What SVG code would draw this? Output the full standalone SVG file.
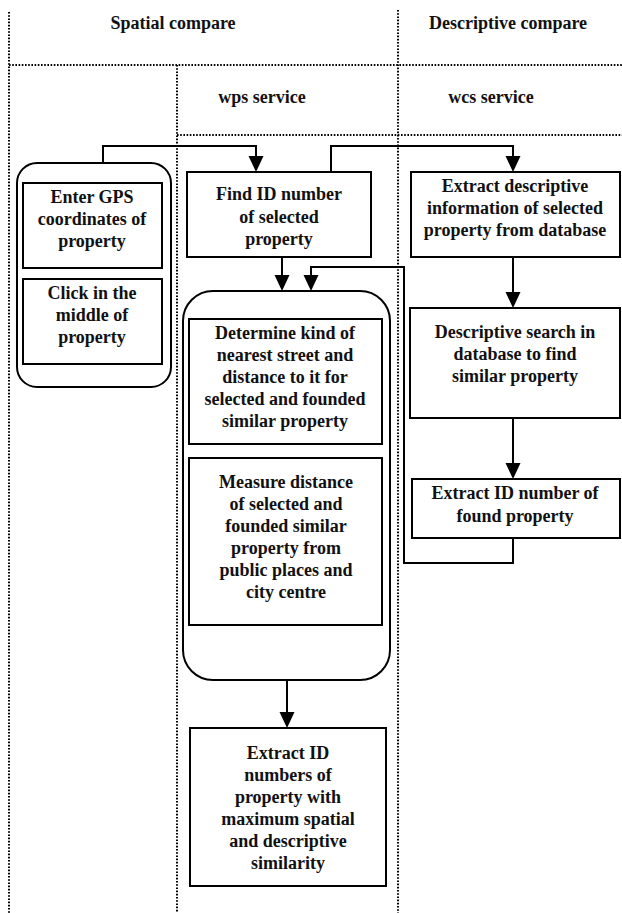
<svg xmlns="http://www.w3.org/2000/svg" width="622" height="913" viewBox="0 0 622 913">
<style>
.dot{stroke:#000;stroke-width:2;stroke-dasharray:1.6 1.6;fill:none}
.box{fill:#fff;stroke:#000;stroke-width:2}
.rbox{fill:#fff;stroke:#000;stroke-width:2}
.con{fill:none;stroke:#000;stroke-width:2}
text{font-family:'Liberation Serif','Times New Roman',Times,serif;font-weight:700;font-size:18px;fill:#111;text-anchor:middle}
</style>
<rect width="622" height="913" fill="#fff"/>
<g id="lanes" font-family="Liberation Serif, serif">
<line class="dot" x1="9" y1="12" x2="9" y2="913"/>
<line class="dot" x1="398" y1="10" x2="398" y2="913"/>
<line class="dot" x1="177" y1="65" x2="177" y2="913"/>
<line class="dot" x1="9" y1="65" x2="622" y2="65"/>
<line class="dot" x1="177" y1="135" x2="622" y2="135"/>
<text x="173" y="29">Spatial compare</text>
<text x="508" y="29">Descriptive compare</text>
<text x="262" y="103">wps service</text>
<text x="491" y="103">wcs service</text>
</g>
<g id="connectors">
<path class="con" d="M103,163 V146 H256 V156"/>
<path d="M248.5,156 L263.5,156 L256,172 Z"/>
<path class="con" d="M331,172 V146 H513 V156"/>
<path d="M505.5,156 L520.5,156 L513,172 Z"/>
<path class="con" d="M282,257 V275"/>
<path d="M274.5,275 L289.5,275 L282,291 Z"/>
<path class="con" d="M513,257 V292"/>
<path d="M505.5,292 L520.5,292 L513,308 Z"/>
<path class="con" d="M513,418 V463"/>
<path d="M505.5,463 L520.5,463 L513,479 Z"/>
<path class="con" d="M513,538 V563 H404 V267 H311 V275"/>
<path d="M303.5,275 L318.5,275 L311,291 Z"/>
<path class="con" d="M287,680 V712"/>
<path d="M279.5,712 L294.5,712 L287,728 Z"/>
</g>
<g id="input-group">
<rect class="rbox" x="17" y="163" width="154" height="224" rx="20"/>
</g>
<g id="enter-gps">
<rect class="box" x="23" y="183" width="139" height="85"/>
<text x="92" y="203">Enter GPS</text>
<text x="92" y="225">coordinates of</text>
<text x="92" y="247">property</text>
</g>
<g id="click-middle">
<rect class="box" x="23" y="279" width="139" height="85"/>
<text x="92" y="299">Click in the</text>
<text x="92" y="321">middle of</text>
<text x="92" y="343">property</text>
</g>
<g id="find-id">
<rect class="box" x="187" y="172" width="184" height="85"/>
<text x="279" y="200">Find ID number</text>
<text x="279" y="223">of selected</text>
<text x="279" y="245">property</text>
</g>
<g id="extract-descriptive">
<rect class="box" x="411" y="172" width="209" height="85"/>
<text x="515" y="192">Extract descriptive</text>
<text x="515" y="214">information of selected</text>
<text x="515" y="236">property from database</text>
</g>
<g id="descriptive-search">
<rect class="box" x="410" y="308" width="210" height="110"/>
<text x="515" y="338">Descriptive search in</text>
<text x="515" y="360">database to find</text>
<text x="515" y="382">similar property</text>
</g>
<g id="extract-found">
<rect class="box" x="412" y="479" width="208" height="59"/>
<text x="515" y="499">Extract ID number of</text>
<text x="515" y="522">found property</text>
</g>
<g id="spatial-group">
<rect class="rbox" x="183" y="291" width="207" height="389" rx="30"/>
</g>
<g id="determine-street">
<rect class="box" x="189" y="319" width="193" height="125"/>
<text x="285" y="339">Determine kind of</text>
<text x="285" y="361">nearest street and</text>
<text x="285" y="383">distance to it for</text>
<text x="285" y="405">selected and founded</text>
<text x="285" y="427">similar property</text>
</g>
<g id="measure-distance">
<rect class="box" x="189" y="458" width="193" height="167"/>
<text x="286" y="488">Measure distance</text>
<text x="286" y="510">of selected and</text>
<text x="286" y="532">founded similar</text>
<text x="286" y="554">property from</text>
<text x="286" y="576">public places and</text>
<text x="286" y="598">city centre</text>
</g>
<g id="extract-max">
<rect class="box" x="190" y="728" width="196" height="158"/>
<text x="288" y="759">Extract ID</text>
<text x="288" y="781">numbers of</text>
<text x="288" y="803">property with</text>
<text x="288" y="825">maximum spatial</text>
<text x="288" y="847">and descriptive</text>
<text x="288" y="869">similarity</text>
</g>
</svg>
